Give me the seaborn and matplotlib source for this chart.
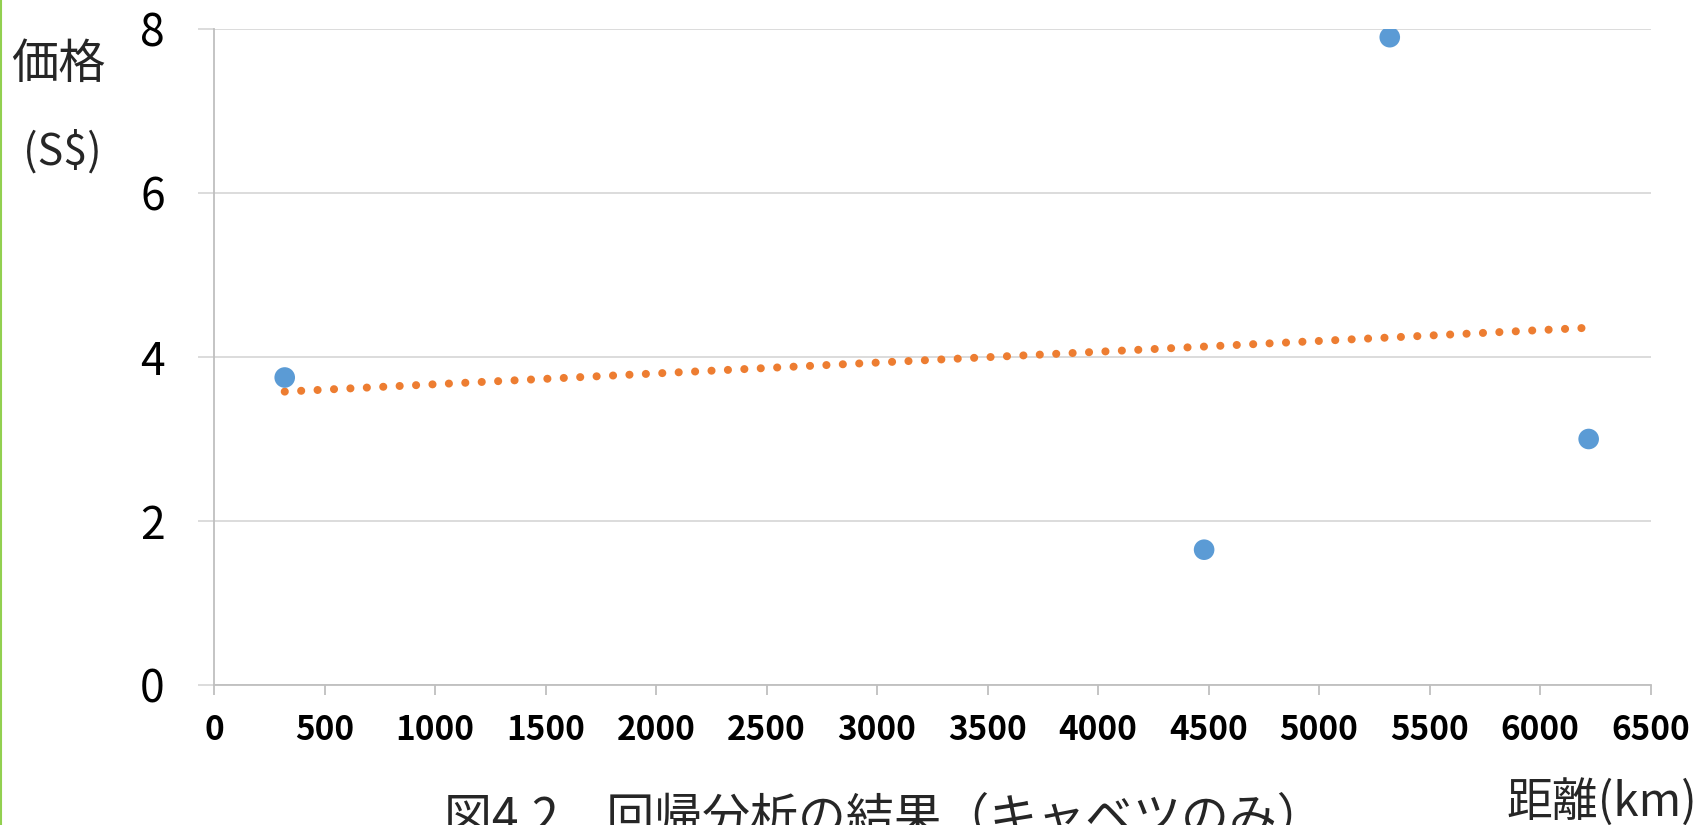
"""
plot.py
-------
Regression result for cabbage price vs. distance (scatter + linear trend).
"""

import matplotlib
matplotlib.use("Agg")
import matplotlib.pyplot as plt
from matplotlib.lines import Line2D
import numpy as np
import pandas as pd
import seaborn as sns


# data
DISTANCE_KM = [320, 4480, 5320, 6220]
PRICE_SGD = [3.75, 1.65, 7.9, 3.0]

X_TICKS = [0, 500, 1000, 1500, 2000, 2500, 3000, 3500, 4000, 4500, 5000, 5500, 6000, 6500]
Y_TICKS = [0, 2, 4, 6, 8]

TITLE = "図4.2　回帰分析の結果（キャベツのみ）"
X_LABEL = "距離(km)"
Y_LABEL_TOP = "価格"
Y_LABEL_UNIT = "(S$)"

POINT_COLOR = "#5B9BD5"
TREND_COLOR = "#ED7D31"
GRID_COLOR = "#D9D9D9"
AXIS_COLOR = "#BFBFBF"


sns.set_theme(style="white")
plt.rcParams["font.family"] = ["Noto Sans CJK JP", "DejaVu Sans"]

df = pd.DataFrame({"distance": DISTANCE_KM, "price": PRICE_SGD})

fig = plt.figure(figsize=(17.03, 8.25), dpi=100)
ax = fig.add_axes([0.12566, 0.1697, 0.84354, 0.79515])

# gridlines first so the marks sit on top
ax.set_axisbelow(True)
ax.yaxis.grid(True, color=GRID_COLOR, lw=1.3)
ax.xaxis.grid(False)

# linear trend (dotted, round dots)
sns.regplot(
    data=df, x="distance", y="price", ax=ax,
    scatter=False, ci=None, truncate=True,
    line_kws={
        "color": TREND_COLOR,
        "lw": 5.8,
        "linestyle": (0, (0.01, 2.03)),
        "dash_capstyle": "round",
    },
)

sns.scatterplot(
    data=df, x="distance", y="price", ax=ax,
    s=220, color=POINT_COLOR, edgecolor="none", zorder=3,
)

ax.set_xlim(0, 6500)
ax.set_ylim(0, 8)
ax.set_xticks(X_TICKS)
ax.set_yticks(Y_TICKS)
ax.set_xticklabels([str(t) for t in X_TICKS], fontsize=24, fontweight="bold", color="black")
ax.set_yticklabels([str(t) for t in Y_TICKS], fontsize=32, color="black")
ax.set_xlabel("")
ax.set_ylabel("")

for side in ["top", "right"]:
    ax.spines[side].set_visible(False)
for side in ["left", "bottom"]:
    ax.spines[side].set_color(AXIS_COLOR)
    ax.spines[side].set_linewidth(1.3)

ax.tick_params(axis="x", direction="out", length=7.2, width=1.3, color=AXIS_COLOR, pad=14, bottom=True)
ax.tick_params(axis="y", direction="out", length=11.5, width=1.3, color=GRID_COLOR, pad=24, left=True)

# axis captions placed like the original worksheet chart
fig.text(0.0345, 0.922, Y_LABEL_TOP, fontsize=34, ha="center", va="center")
fig.text(0.0364, 0.815, Y_LABEL_UNIT, fontsize=31, ha="center", va="center")
fig.text(0.9965, 0.0109, X_LABEL, fontsize=33, ha="right", va="baseline")
# caption sits partly below the bottom edge, as in the original
fig.text(0.519, -0.0095, TITLE, fontsize=34.5, ha="center", va="baseline")

# thin green frame edge on the left
fig.add_artist(Line2D([0.0008, 0.0008], [0, 1], transform=fig.transFigure,
                      color="#92D050", lw=1.5))

fig.savefig("out.png", dpi=100)
plt.close(fig)
